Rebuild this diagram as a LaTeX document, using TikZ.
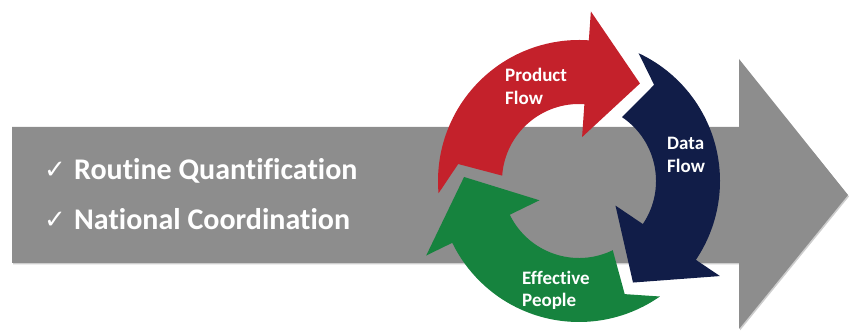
\documentclass[tikz,border=0pt]{standalone}
\usepackage{fontspec}
\setmainfont{Carlito}[Ligatures={NoCommon}]
\newfontfamily\checkfont{DejaVu Sans}
\definecolor{arrowgray}{RGB}{141,141,141}
\definecolor{shadowgray}{RGB}{205,205,205}
\definecolor{cycred}{RGB}{196,33,43}
\definecolor{cycnavy}{RGB}{17,29,72}
\definecolor{cycgreen}{RGB}{22,131,62}
\tikzset{
  lbl/.style={text=white, font=\bfseries\fontsize{19}{23}\selectfont, inner sep=0pt, anchor=base west},
  bigtxt/.style={text=white, font=\bfseries\fontsize{30}{34}\selectfont, inner sep=0pt, anchor=base west},
  tick/.style={text=white, font=\checkfont\fontsize{26}{30}\selectfont, inner sep=0pt, anchor=base west},
}
\newcommand\circarrow[2]{%
  \fill[#2] ({185+(#1)}:141) arc[start angle={185+(#1)}, end angle={86+(#1)}, radius=141]
    -- ({86+(#1)}:170) -- ({58+(#1)}:115) -- ({86+(#1)}:44) -- ({86+(#1)}:77)
    arc[start angle={86+(#1)}, end angle={176+(#1)}, radius=77]
    -- ({172+(#1)}:122) -- cycle;}
\begin{document}
\begin{tikzpicture}[x=1pt,y=1pt]
\useasboundingbox (0,0) rectangle (849,331);
% big gray arrow with soft shadow
\fill[shadowgray] (13,66.5) -- (13,202) -- (740,202) -- (740,270) -- (849,134.5) -- (740,0.5) -- (740,66.5) -- cycle;
\fill[arrowgray] (12,68) -- (12,204) -- (739,204) -- (739,272) -- (848,136) -- (739,2) -- (739,68) -- cycle;
% cycle of three arrows
\begin{scope}[shift={(579,150)}]
  \circarrow{0}{cycred}
  \circarrow{-120}{cycnavy}
  \circarrow{-240}{cycgreen}
\end{scope}
% labels in the cycle
\node[lbl] (pf1) at (505,249) {Product};
\node[lbl] (pf2) at (505,226) {Flow};
\node[lbl] (df1) at (667,181) {Data};
\node[lbl] (df2) at (667,158) {Flow};
\node[lbl] (ep1) at (522,46) {Effective};
\node[lbl] (ep2) at (522,24) {People};
% bullet list
\node[tick] (t1) at (44,152) {✓};
\node[bigtxt] (b1) at (74,151) {Routine Quantification};
\node[tick] (t2) at (44,102) {✓};
\node[bigtxt] (b2) at (74,101) {National Coordination};
\end{tikzpicture}
\end{document}
